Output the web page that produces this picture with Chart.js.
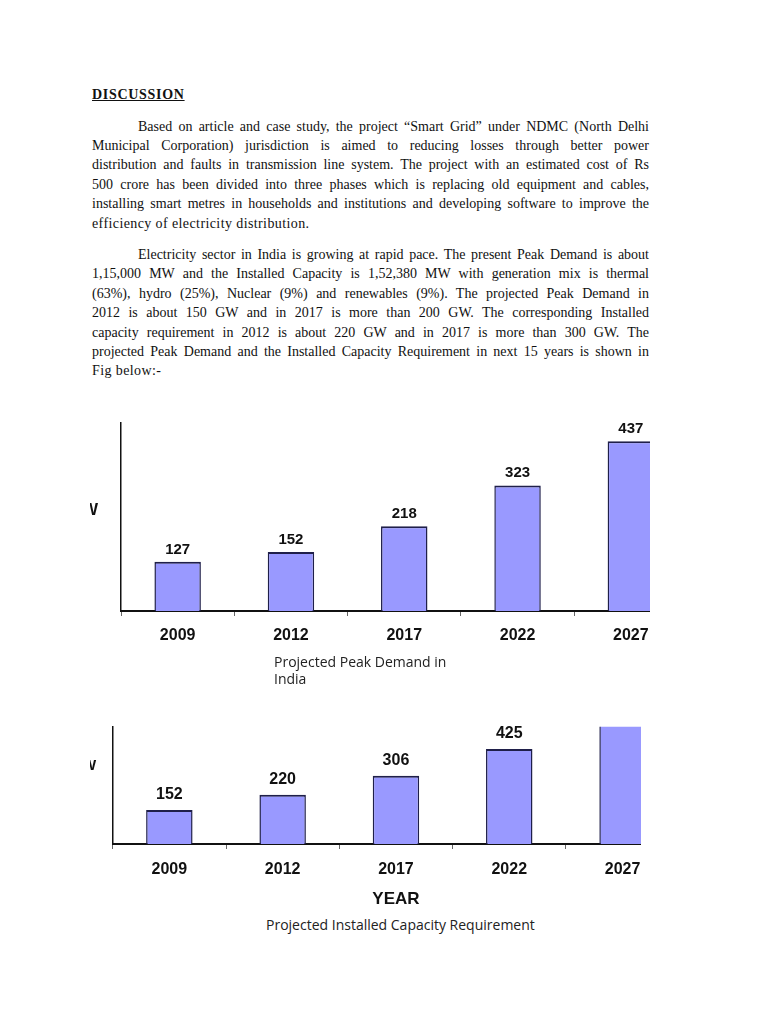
<!DOCTYPE html>
<html>
<head>
<meta charset="utf-8">
<script src="https://cdn.jsdelivr.net/npm/chart.js@4.4.1/dist/chart.umd.min.js"></script>
<style>
  html, body { margin: 0; padding: 0; background: #fff; }
  body { width: 768px; height: 1024px; position: relative; overflow: hidden; }
  .abs { position: absolute; }
  .doc { font-family: 'Liberation Serif', 'Times New Roman', serif; font-size: 14px; line-height: 19.4px; color: #111; letter-spacing: 0.4px; }
  .doc div { white-space: nowrap; }
  .doc .j { text-align: justify; text-align-last: justify; white-space: normal; letter-spacing: 0; }
  .indent { padding-left: 46px; }
  h1 { margin: 0; font: bold 14px/19.4px 'Liberation Serif', serif; letter-spacing: 0.7px; text-decoration: underline; color: #111; }
  .clip { position: absolute; left: 0; overflow: hidden; }
  .cap { font-family: 'Open Sans', 'Noto Sans', sans-serif; font-size: 14px; line-height: 17.3px; color: #222; }
  .ylab { position: absolute; left: 90px; width: 9px; overflow: hidden; font: bold 17px 'Liberation Sans', Arial, sans-serif; color: #111; }
  .ylab span { position: relative; left: -8px; }
</style>
</head>
<body>
<h1 class="abs" style="left:92px; top:85px;">DISCUSSION</h1>

<div class="abs doc" style="left:92px; top:116.5px; width:557px;">
  <div class="j indent">Based on article and case study, the project “Smart Grid” under NDMC (North Delhi</div>
  <div class="j">Municipal Corporation) jurisdiction is aimed to reducing losses through better power</div>
  <div class="j">distribution and faults in transmission line system. The project with an estimated cost of Rs</div>
  <div class="j">500 crore has been divided into three phases which is replacing old equipment and cables,</div>
  <div class="j">installing smart metres in households and institutions and developing software to improve the</div>
  <div>efficiency of electricity distribution.</div>
</div>

<div class="abs doc" style="left:92px; top:245px; width:557px;">
  <div class="j indent">Electricity sector in India is growing at rapid pace. The present Peak Demand is about</div>
  <div class="j">1,15,000 MW and the Installed Capacity is 1,52,380 MW with generation mix is thermal</div>
  <div class="j">(63%), hydro (25%), Nuclear (9%) and renewables (9%). The projected Peak Demand in</div>
  <div class="j">2012 is about 150 GW and in 2017 is more than 200 GW. The corresponding Installed</div>
  <div class="j">capacity requirement in 2012 is about 220 GW and in 2017 is more than 300 GW. The</div>
  <div class="j">projected Peak Demand and the Installed Capacity Requirement in next 15 years is shown in</div>
  <div>Fig below:-</div>
</div>

<div class="clip" style="top:395px; width:650px; height:260px;">
  <canvas id="peakChart" width="768" height="260"></canvas>
</div>
<div class="ylab" style="top:500px;"><span>W</span></div>
<div class="abs cap" style="left:274px; top:653px;">Projected Peak Demand in<br>India</div>

<div class="clip" style="top:700px; width:641px; height:215px;">
  <canvas id="capacityChart" width="768" height="215"></canvas>
</div>
<div class="ylab" style="top:756px; font-size:15px;"><span>W</span></div>
<div class="abs cap" style="left:266px; top:916px;">Projected Installed Capacity Requirement</div>

<script>
const years = ['2009', '2012', '2017', '2022', '2027'];
const peakDemand = [127, 152, 218, 323, 437];
const installedCapacity = [152, 220, 306, 425, 575];
const peakAxisMax = 484;
const capacityAxisMax = 525;

const barFill = '#9999ff';
const barEdge = '#1f1f4a';

// Values over the bars, skipped when the bar runs past the top of the axis
const valueLabels = {
    id: 'valueLabels',
    afterDatasetsDraw(chart, args, opts) {
        const { ctx } = chart;
        const meta = chart.getDatasetMeta(0);
        const values = chart.data.datasets[0].data;
        const yMax = chart.scales.y.max;
        ctx.save();
        ctx.font = opts.font;
        ctx.fillStyle = '#111';
        ctx.textAlign = 'center';
        ctx.textBaseline = 'middle';
        meta.data.forEach((bar, i) => {
            if (values[i] > yMax) {
                return;
            }
            ctx.fillText(String(values[i]), bar.x, bar.y - opts.gap);
        });
        ctx.restore();
    },
};

const makeChart = (canvasId, values, cfg) => {
    return new Chart(document.getElementById(canvasId), {
        type: 'bar',
        data: {
            labels: years,
            datasets: [
                {
                    data: values,
                    backgroundColor: barFill,
                    borderColor: barEdge,
                    borderWidth: { top: 2, left: 1.5, right: 1.5, bottom: 0 },
                    borderSkipped: 'start',
                    barPercentage: 0.41,
                    categoryPercentage: 1,
                    clip: 0,
                },
            ],
        },
        options: {
            responsive: false,
            animation: false,
            devicePixelRatio: 1,
            layout: { padding: cfg.padding },
            plugins: {
                legend: { display: false },
                tooltip: { enabled: false },
                valueLabels: { font: cfg.valueFont, gap: cfg.valueGap },
            },
            scales: {
                x: {
                    grid: {
                        display: true,
                        drawOnChartArea: false,
                        drawTicks: true,
                        tickLength: 5,
                        offset: true,
                        color: '#666',
                        lineWidth: 1,
                    },
                    border: { display: true, color: '#111', width: 2 },
                    ticks: {
                        color: '#111',
                        padding: cfg.tickPadding,
                        font: cfg.tickFont,
                        maxRotation: 0,
                        autoSkip: false,
                    },
                    title: cfg.xTitle || { display: false },
                    afterFit: (scale) => { scale.height = cfg.xHeight; },
                },
                y: {
                    min: 0,
                    max: cfg.yMax,
                    grid: { display: false },
                    ticks: { display: false },
                    border: { display: true, color: '#111', width: 1.5 },
                    afterFit: (scale) => { scale.width = 0; },
                },
            },
        },
        plugins: [valueLabels],
    });
};

makeChart('peakChart', peakDemand, {
    padding: { left: 121, right: 80.5, top: 28, bottom: 0 },
    yMax: peakAxisMax,
    xHeight: 44,
    tickPadding: 10,
    tickFont: { family: "'Liberation Sans', Arial, sans-serif", size: 16, weight: 'bold' },
    valueFont: "bold 15px 'Liberation Sans', Arial, sans-serif",
    valueGap: 12.3,
});

makeChart('capacityChart', installedCapacity, {
    padding: { left: 112.7, right: 88.8, top: 26.7, bottom: 0 },
    yMax: capacityAxisMax,
    xHeight: 71,
    tickPadding: 11,
    tickFont: { family: "'Liberation Sans', Arial, sans-serif", size: 16, weight: 'bold' },
    valueFont: "bold 16px 'Liberation Sans', Arial, sans-serif",
    valueGap: 15.5,
    xTitle: {
        display: true,
        text: 'YEAR',
        color: '#111',
        font: { family: "'Liberation Sans', Arial, sans-serif", size: 17, weight: 'bold' },
        padding: { top: 0, bottom: 5 },
    },
});
</script>
</body>
</html>
